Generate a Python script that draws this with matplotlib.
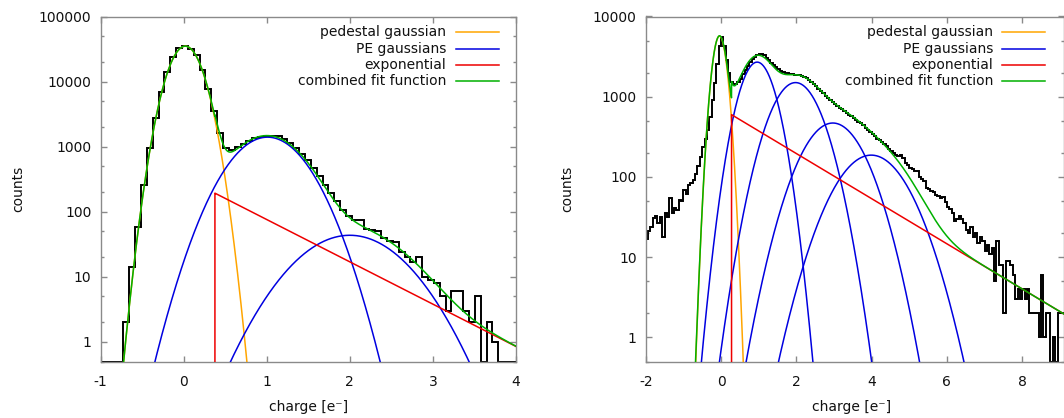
import numpy as np
import matplotlib
matplotlib.use("Agg")
import matplotlib.pyplot as plt
from matplotlib.ticker import FixedLocator, FuncFormatter, NullFormatter, LogLocator

plt.rcParams['font.family'] = ['DejaVu Sans']
plt.rcParams['axes.unicode_minus'] = False

# ---------------- data: left panel ----------------
left_bin_start = -1.007
left_bin_width = 0.0705
left_counts = [0, 0, 0, 0,
               2, 14, 59, 256, 955, 2750, 6900, 14000, 23800, 33000,
               34700, 31800, 25300, 15200, 7800, 3500, 1600, 960, 880, 980,
               1090, 1220, 1340, 1430, 1470, 1470, 1450, 1300, 1130, 950,
               770, 615, 470, 355, 260, 195, 148, 108, 86, 76,
               74, 55, 52, 50, 39, 35, 34, 24, 20, 17,
               20, 10, 9, 8, 5, 3, 6, 6, 3, 2,
               5, 0, 2, 1,
               0, 0, 0]
left_ped = (35000, 0.02, 0.157)           # amplitude, mean, sigma
left_pe_amp = [1400, 43.5]
left_pe_mean = [1.01, 2.0]
left_pe_sigma = [0.34, 0.48]
left_exp = (0.377, 193, 1.497)            # start, amplitude, slope
left_xticks = [-1, 0, 1, 2, 3, 4]

# ---------------- data: right panel ----------------
right_bin_start = -2.0
right_bin_width = 0.0625
right_counts = [17, 21, 24, 31, 33, 27, 32, 18, 35, 32,
                55, 36, 41, 39, 52, 50, 68, 61, 80, 84,
                92, 108, 135, 178, 236, 300, 385, 560, 900, 1500,
                2550, 4300, 5600, 4300, 2850, 1950, 1520, 1440, 1430, 1520,
                1680, 1900, 2150, 2420, 2700, 2950, 3150, 3320, 3400, 3400,
                3300, 3050, 2850, 2650, 2480, 2350, 2230, 2120, 2050, 2000,
                1960, 1930, 1920, 1890, 1880, 1850, 1800, 1760, 1690, 1600,
                1530, 1440, 1350, 1260, 1180, 1100, 1030, 960, 900, 850,
                800, 760, 730, 700, 670, 630, 600, 575, 545, 515,
                490, 465, 440, 410, 390, 360, 340, 320, 300, 285,
                270, 255, 240, 225, 210, 200, 190, 180, 185, 170,
                150, 140, 130, 125, 120, 118, 100, 95, 90, 72,
                70, 66, 64, 60, 58, 54, 56, 48, 42, 40,
                35, 28, 30, 33, 30, 27, 22, 20, 24, 18,
                20, 15, 18, 16, 12, 14, 11, 13, 5, 16,
                8, 8, 2, 9, 9, 8, 6, 3, 4, 3,
                4, 3, 4, 2, 2, 2, 2, 1, 6, 1,
                2, 2, 0, 1, 0, 2, 2, 2, 1]
right_ped = (5700, -0.04, 0.146)
right_pe_amp = [2700, 1500, 470, 187]
right_pe_mean = [0.96, 1.98, 2.97, 3.99]
right_pe_sigma = [0.357, 0.505, 0.622, 0.715]
right_exp = (0.28, 597, 0.648)
right_xticks = [-2, 0, 2, 4, 6, 8]

legend_labels = ["pedestal gaussian", "PE gaussians", "exponential", "combined fit function"]
c_ped, c_pe, c_exp, c_comb = "#ffa500", "#0000e0", "#ee0000", "#00b000"
border = "#8a8a8a"


def gauss(x, a, m, s):
    return a * np.exp(-(x - m) ** 2 / (2 * s * s))


def panel(ax, start, width, counts, ped, pe_amp, pe_mean, pe_sigma, expo,
          xlim, ylim, xticks, label_x, leg_text_x, leg_line_x, counts_x):
    counts = np.asarray(counts, dtype=float)
    edges = start + width * np.arange(len(counts) + 1)
    shown = np.where(counts > 0, counts, ylim[0])
    ax.stairs(shown, edges, baseline=None, color="black", lw=1.4, zorder=2)

    x = np.linspace(xlim[0], xlim[1], 3000)
    floor = 1e-6
    p = gauss(x, *ped)
    ax.plot(x, np.maximum(p, floor), color=c_ped, lw=1.1, zorder=3)
    total = p.copy()
    for a, m, s in zip(pe_amp, pe_mean, pe_sigma):
        g = gauss(x, a, m, s)
        total += g
        ax.plot(x, np.maximum(g, floor), color=c_pe, lw=1.1, zorder=3)
    x0, ea, ek = expo
    xe = x[x >= x0]
    ye = ea * np.exp(-ek * (xe - x0))
    ax.plot(np.r_[x0, x0, xe], np.r_[floor, ea, ye], color=c_exp, lw=1.1, zorder=4)
    e_full = np.where(x >= x0, ea * np.exp(-ek * (x - x0)), 0.0)
    total += e_full
    ax.plot(x, np.maximum(total, floor), color=c_comb, lw=1.1, zorder=5)

    ax.set_yscale("log")
    ax.set_xlim(*xlim)
    ax.set_ylim(*ylim)
    ax.xaxis.set_major_locator(FixedLocator(xticks))
    ax.xaxis.set_major_formatter(FuncFormatter(lambda v, p: f"{v:g}"))
    ax.yaxis.set_major_locator(LogLocator(base=10, numticks=20))
    ax.yaxis.set_minor_locator(LogLocator(base=10, subs=(2.0, 5.0), numticks=20))
    ax.yaxis.set_major_formatter(FuncFormatter(lambda v, p: f"{v:.0f}"))
    ax.yaxis.set_minor_formatter(NullFormatter())
    ax.tick_params(which="both", direction="in", top=True, right=True, color=border, width=1)
    ax.tick_params(which="major", length=4.5, labelsize=10, labelcolor="#111111")
    ax.tick_params(which="minor", length=2.5)
    ax.tick_params(axis="x", which="major", pad=10)
    ax.tick_params(axis="y", which="major", pad=6.5)
    for sp in ax.spines.values():
        sp.set_color(border)
        sp.set_linewidth(1.0)

    ax.set_xlabel("charge [e⁻]", fontsize=10, color="#111111")
    ax.xaxis.set_label_coords(label_x, -0.112)
    ax.set_ylabel("counts", fontsize=10, color="#111111")
    ax.yaxis.set_label_coords(counts_x, 0.5)

    rows = [0.9551, 0.9072, 0.8594, 0.8116]
    colors = [c_ped, c_pe, c_exp, c_comb]
    for lab, yy, col in zip(legend_labels, rows, colors):
        ax.text(leg_text_x, yy, lab, transform=ax.transAxes, ha="right", va="center",
                fontsize=10, color="#111111", zorder=6)
        ax.plot(leg_line_x, [yy, yy], transform=ax.transAxes, color=col, lw=1.1,
                clip_on=False, zorder=6)


fig = plt.figure(figsize=(10.64, 4.18), dpi=100)
H = 418.0
W = 1064.0
bot = (H - 361.5) / H
hgt = (361.5 - 16.5) / H
ax1 = fig.add_axes([100.5 / W, bot, (516 - 100.5) / W, hgt])
ax2 = fig.add_axes([645.7 / W, bot, (1064 - 645.7) / W, hgt])

panel(ax1, left_bin_start, left_bin_width, left_counts, left_ped,
      left_pe_amp, left_pe_mean, left_pe_sigma, left_exp,
      (-1, 4), (0.5, 100000), left_xticks, 0.5,
      0.8315, [0.8556, 0.9591], -0.181)
panel(ax2, right_bin_start, right_bin_width, right_counts, right_ped,
      right_pe_amp, right_pe_mean, right_pe_sigma, right_exp,
      (-2, 9.11), (0.5, 10000), right_xticks, 0.493,
      0.8303, [0.8518, 0.9546], -0.172)

fig.savefig("out.png", dpi=100)
